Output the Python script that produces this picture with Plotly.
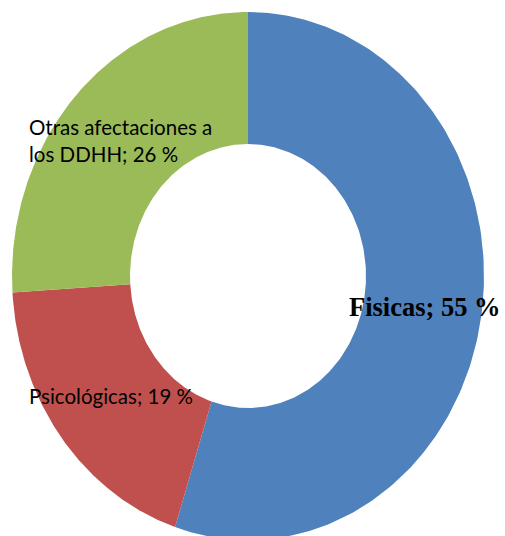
## Donut chart: tipos de afectaciones (Fisicas / Psicologicas / Otras)
## Drawn as filled scatter wedges so the ring can be stretched like the original

import numpy as np
import plotly.graph_objects as go

# Data
labels = ['Fisicas', 'Psicológicas', 'Otras afectaciones a<br>los DDHH']
values = [55, 19, 26]
colors = ['#4F81BD', '#C0504D', '#9BBB59']

hole = 0.5

fig = go.Figure()

# Wedges start at 12 o'clock and go clockwise
total = sum(values)
start = 0.0
for label, value, color in zip(labels, values, colors):
    end = start + value / total * 2 * np.pi
    t = np.linspace(start, end, 200)
    xs = np.concatenate([np.sin(t), hole * np.sin(t[::-1])])
    ys = np.concatenate([np.cos(t), hole * np.cos(t[::-1])])
    fig.add_trace(go.Scatter(x=xs, y=ys, fill='toself', fillcolor=color, mode='lines',
                             line=dict(width=0, color=color), hoverinfo='text',
                             text=f'{label}; {value} %', showlegend=False))
    start = end

# Data labels (same text style as the source)
fig.add_annotation(x=347 / 505, y=1 - 307 / 536, xref='paper', yref='paper',
                   xanchor='left', yanchor='middle', showarrow=False,
                   text=f'<b>{labels[0]}; {values[0]} %</b>',
                   font=dict(family='Liberation Serif', size=26.5, color='black'))
fig.add_annotation(x=27 / 505, y=1 - 396 / 536, xref='paper', yref='paper',
                   xanchor='left', yanchor='middle', showarrow=False,
                   text=f'{labels[1]}; {values[1]} %',
                   font=dict(family='Lato', size=20.5, color='black'))
fig.add_annotation(x=27 / 505, y=1 - 140 / 536, xref='paper', yref='paper',
                   xanchor='left', yanchor='middle', showarrow=False, align='left',
                   text=f'{labels[2]}; {values[2]} %',
                   font=dict(family='Lato', size=20.5, color='black'))

# Axis ranges put the centre at (248, 276) px with radii 236 x 264 px
fig.update_xaxes(range=[-248 / 236, 257 / 236], visible=False, fixedrange=True)
fig.update_yaxes(range=[-260 / 264, 276 / 264], visible=False, fixedrange=True)

fig.update_layout(width=505, height=536, margin=dict(l=0, r=0, t=0, b=0),
                  paper_bgcolor='white', plot_bgcolor='white')

# drop the default 8px body margin so the figure sits at the page corner
fig.write_html('out.html', config={'displayModeBar': False},
               post_script="document.body.style.margin='0';")
